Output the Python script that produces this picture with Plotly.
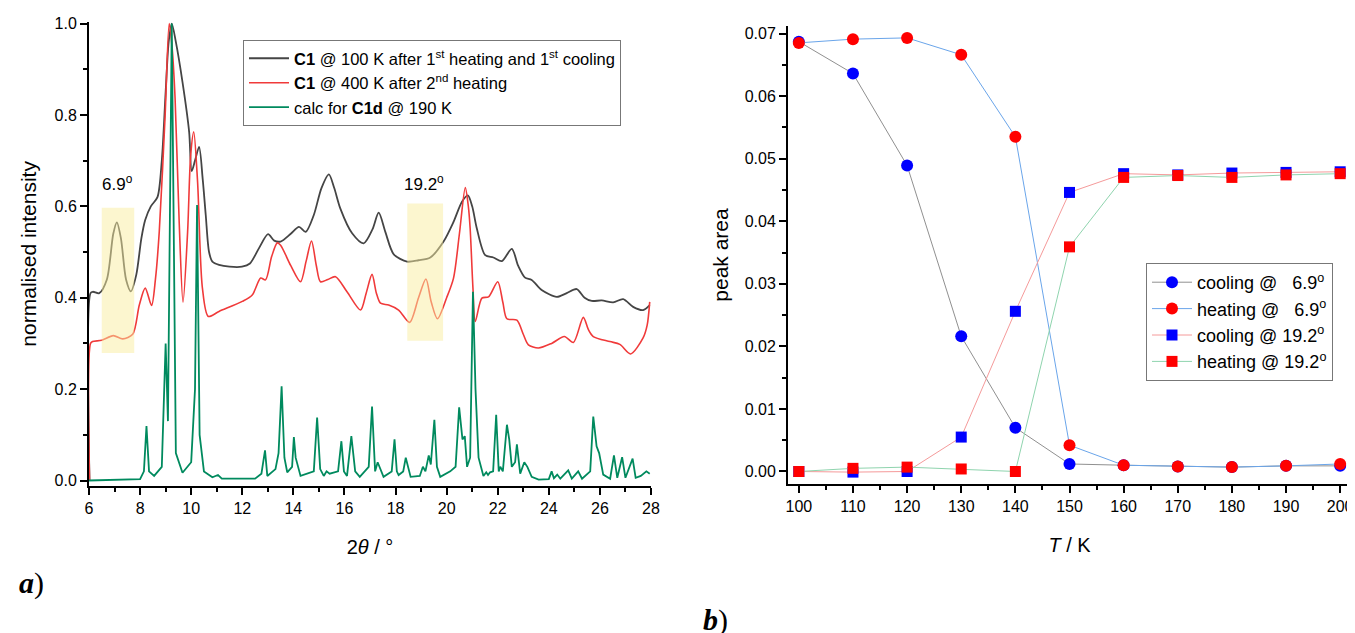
import plotly.graph_objects as go

# ---- panel a: powder patterns (2theta, normalised intensity) ----
tt_100k = [6.02, 6.06, 6.15, 6.4, 6.7, 6.95, 7.09, 7.25, 7.45, 7.64, 7.85, 8.05, 8.2, 8.42, 8.68, 8.85,
           9.0, 9.12, 9.24, 9.4, 9.66, 9.92, 10.02, 10.15, 10.31, 10.45, 10.57, 10.7, 10.83, 11.09,
           11.5, 11.99, 12.3, 12.65, 13.01, 13.25, 13.5, 13.9, 14.22, 14.48, 14.8, 15.1, 15.39, 15.6,
           15.84, 16.3, 16.75, 17.1, 17.34, 17.6, 17.93, 18.45, 18.9, 19.36, 19.88, 20.27, 20.6, 20.83,
           21.0, 21.18, 21.51, 21.83, 22.16, 22.55, 22.8, 23.07, 23.33, 23.72, 24.31, 24.7, 25.09,
           25.4, 25.68, 26.07, 26.52, 26.91, 27.3, 27.69, 27.95]
int_100k = [0.0, 0.41, 0.413, 0.41, 0.44, 0.54, 0.565, 0.53, 0.44, 0.414, 0.45, 0.53, 0.57, 0.6, 0.62, 0.7,
            0.85, 0.96, 1.0, 0.96, 0.872, 0.763, 0.677, 0.7, 0.73, 0.66, 0.581, 0.5, 0.479, 0.472,
            0.468, 0.468, 0.475, 0.508, 0.539, 0.525, 0.523, 0.54, 0.555, 0.544, 0.581, 0.64, 0.67, 0.64,
            0.595, 0.541, 0.519, 0.55, 0.586, 0.544, 0.495, 0.479, 0.482, 0.488, 0.523, 0.566, 0.61, 0.624,
            0.6, 0.552, 0.493, 0.488, 0.48, 0.507, 0.47, 0.444, 0.439, 0.417, 0.402, 0.41, 0.419,
            0.4, 0.393, 0.394, 0.39, 0.397, 0.38, 0.373, 0.384]

tt_400k = [6.02, 6.06, 6.14, 6.5, 6.95, 7.32, 7.71, 7.97, 8.2, 8.45, 8.6, 8.75, 8.98, 9.14, 9.25, 9.37,
           9.53, 9.68, 9.86, 9.98, 10.1, 10.25, 10.44, 10.67, 11.09, 12.0, 12.39, 12.72, 12.91, 13.15,
           13.37, 13.5, 13.9, 14.28, 14.5, 14.71, 14.9, 15.06, 15.35, 15.65, 16.1, 16.63, 16.85, 17.08,
           17.25, 17.41, 17.73, 18.12, 18.55, 18.9, 19.19, 19.4, 19.64, 20.0, 20.27, 20.5, 20.73, 20.85,
           20.92, 21.03, 21.12, 21.38, 21.64, 22.0, 22.2, 22.36, 22.75, 23.0, 23.2, 23.59, 24.11, 24.61,
           24.96, 25.35, 25.55, 25.74, 26.39, 26.78, 27.2, 27.69, 27.85, 27.95]
int_400k = [0.0, 0.30, 0.304, 0.307, 0.317, 0.31, 0.32, 0.384, 0.421, 0.383, 0.44, 0.544, 0.799, 1.0, 0.95, 0.836,
            0.566, 0.39, 0.544, 0.712, 0.763, 0.654, 0.421, 0.359, 0.37, 0.392, 0.406, 0.443, 0.439, 0.49,
            0.52, 0.515, 0.47, 0.435, 0.48, 0.524, 0.47, 0.435, 0.44, 0.446, 0.413, 0.373, 0.41, 0.451,
            0.41, 0.388, 0.384, 0.373, 0.346, 0.4, 0.441, 0.39, 0.354, 0.4, 0.443, 0.54, 0.641, 0.6,
            0.552, 0.421, 0.348, 0.399, 0.402, 0.435, 0.39, 0.354, 0.351, 0.32, 0.297, 0.29, 0.30, 0.315,
            0.302, 0.357, 0.33, 0.315, 0.304, 0.298, 0.277, 0.312, 0.34, 0.391]

tt_calc = [6.0, 8.0, 8.15, 8.25, 8.35, 8.55, 8.85, 9.0, 9.09, 9.24, 9.4, 9.66, 10.0, 10.15, 10.23, 10.33,
           10.5, 10.83, 11.05, 11.2, 12.5, 12.75, 12.89, 12.98, 13.3, 13.42, 13.54, 13.65, 13.76, 13.95,
           14.02, 14.09, 14.28, 14.8, 14.93, 15.05, 15.19, 15.3, 15.42, 15.75, 15.88, 15.98, 16.1, 16.27,
           16.42, 16.6, 16.95, 17.08, 17.2, 17.3, 17.53, 17.85, 17.96, 18.05, 18.12, 18.3, 18.4, 18.59,
           18.95, 19.07, 19.17, 19.3, 19.38, 19.52, 19.62, 19.75, 20.14, 20.35, 20.49, 20.62, 20.71, 20.8,
           20.92, 21.03, 21.13, 21.25, 21.44, 21.55, 21.62, 21.7, 21.82, 21.94, 22.04, 22.1, 22.2, 22.36,
           22.45, 22.55, 22.68, 22.75, 22.88, 23.04, 23.16, 23.33, 23.6, 24.0, 24.11, 24.2, 24.33, 24.45,
           24.76, 24.9, 25.15, 25.3, 25.62, 25.74, 25.87, 25.97, 26.13, 26.4, 26.55, 26.68, 26.87, 27.0,
           27.28, 27.4, 27.6, 27.82, 27.95]
int_calc = [0.0, 0.003, 0.02, 0.119, 0.02, 0.01, 0.03, 0.30, 0.13, 1.0, 0.06, 0.017, 0.04, 0.2, 0.603, 0.1,
            0.02, 0.007, 0.012, 0.004, 0.004, 0.015, 0.066, 0.01, 0.025, 0.06, 0.206, 0.05, 0.018, 0.03,
            0.095, 0.05, 0.01, 0.02, 0.138, 0.025, 0.01, 0.02, 0.015, 0.02, 0.086, 0.02, 0.01, 0.097,
            0.02, 0.008, 0.03, 0.162, 0.02, 0.04, 0.008, 0.02, 0.09, 0.02, 0.012, 0.02, 0.05, 0.008,
            0.01, 0.03, 0.02, 0.055, 0.035, 0.133, 0.03, 0.008, 0.02, 0.03, 0.16, 0.09, 0.097, 0.03,
            0.05, 0.413, 0.2, 0.05, 0.01, 0.018, 0.012, 0.018, 0.02, 0.144, 0.02, 0.03, 0.02, 0.122,
            0.09, 0.03, 0.04, 0.079, 0.015, 0.04, 0.03, 0.008, 0.002, 0.003, 0.02, 0.005, 0.013, 0.004,
            0.022, 0.004, 0.02, 0.004, 0.02, 0.14, 0.075, 0.06, 0.013, 0.004, 0.055, 0.006, 0.051, 0.006,
            0.048, 0.006, 0.01, 0.02, 0.015]

# highlighted regions (2theta ranges)
band_69 = [6.5, 7.77]
band_192 = [18.46, 19.86]

# ---- panel b: peak areas vs temperature ----
temp_K = [100, 110, 120, 130, 140, 150, 160, 170, 180, 190, 200]
cool_69 = [0.0687, 0.0636, 0.0489, 0.0216, 0.0070, 0.0012, 0.0010, 0.0008, 0.0007, 0.0009, 0.0009]
heat_69 = [0.0685, 0.0691, 0.0693, 0.0666, 0.0535, 0.0042, 0.0010, 0.0008, 0.0007, 0.0009, 0.0012]
cool_192 = [0.0000, -0.0001, 0.0000, 0.0055, 0.0256, 0.0446, 0.0476, 0.0474, 0.0477, 0.0478, 0.0479]
heat_192 = [0.0000, 0.0005, 0.0007, 0.0004, 0.0000, 0.0359, 0.0470, 0.0473, 0.0470, 0.0474, 0.0476]

FONT = "Liberation Sans, Arial, sans-serif"
# page body has an 8px margin, so the figure is a bit smaller than the window
OFF = 8
W, H = 1355 - OFF, 633 - OFF


def fx(px):
    return (px - OFF) / W


def fy(py):
    return 1 - (py - OFF) / H


fig = go.Figure()

fig.add_trace(go.Scatter(x=tt_100k, y=int_100k, mode="lines", line=dict(color="#454545", width=1.8, shape="spline", smoothing=0.8),
                         name="<b>C1</b> @ 100 K after 1<sup>st</sup> heating and 1<sup>st</sup> cooling", xaxis="x", yaxis="y"))
fig.add_trace(go.Scatter(x=tt_400k, y=int_400k, mode="lines", line=dict(color="#f03a3a", width=1.6, shape="spline", smoothing=0.8),
                         name="<b>C1</b> @ 400 K after 2<sup>nd</sup> heating", xaxis="x", yaxis="y"))
fig.add_trace(go.Scatter(x=tt_calc, y=int_calc, mode="lines", line=dict(color="#008a5e", width=1.8),
                         name="calc for <b>C1d</b> @ 190 K", xaxis="x", yaxis="y"))

right_series = [
    ("cooling @   6.9<sup>o</sup>", cool_69, "circle", "#0000ff", "#909090"),
    ("heating @   6.9<sup>o</sup>", heat_69, "circle", "#ff0000", "#6aa5ea"),
    ("cooling @ 19.2<sup>o</sup>", cool_192, "square", "#0000ff", "#f59a9a"),
    ("heating @ 19.2<sup>o</sup>", heat_192, "square", "#ff0000", "#8fd4ae"),
]
for name, vals, sym, mc, lc in right_series:
    fig.add_trace(go.Scatter(x=temp_K, y=vals, mode="lines+markers", name=name,
                             line=dict(color=lc, width=1),
                             marker=dict(symbol=sym, color=mc, size=12 if sym == "circle" else 11),
                             xaxis="x2", yaxis="y2", legend="legend2"))

for lo, hi, ylo, yhi in [(band_69[0], band_69[1], 0.279, 0.597), (band_192[0], band_192[1], 0.306, 0.606)]:
    fig.add_shape(type="rect", xref="x", yref="y", x0=lo, x1=hi, y0=ylo, y1=yhi,
                  fillcolor="rgba(250,238,160,0.5)", line_width=0, layer="above")

fig.add_annotation(x=7.1, y=0.652, xref="x", yref="y", text="6.9<sup>o</sup>", showarrow=False,
                   font=dict(family=FONT, size=17, color="black"))
fig.add_annotation(x=19.1, y=0.652, xref="x", yref="y", text="19.2<sup>o</sup>", showarrow=False,
                   font=dict(family=FONT, size=17, color="black"))

fig.add_annotation(x=fx(31), y=fy(583), xref="paper", yref="paper", text="<b><i>a</i></b>)", showarrow=False,
                   xanchor="center", yanchor="middle",
                   font=dict(family="Liberation Serif, Times New Roman, serif", size=30, color="black"))
fig.add_annotation(x=fx(715), y=fy(620), xref="paper", yref="paper", text="<b><i>b</i></b>)", showarrow=False,
                   xanchor="center", yanchor="middle",
                   font=dict(family="Liberation Serif, Times New Roman, serif", size=30, color="black"))

axis_common = dict(showline=True, linecolor="black", linewidth=2, ticks="outside", ticklen=7, tickwidth=2,
                   tickcolor="black", showgrid=False, zeroline=False, mirror=False, automargin=False,
                   tickfont=dict(family=FONT, size=16, color="black"))

fig.update_layout(
    width=W, height=H, margin=dict(l=0, r=0, t=0, b=0),
    plot_bgcolor="white", paper_bgcolor="white",
    font=dict(family=FONT, color="black"),
    xaxis=dict(axis_common, domain=[fx(89), fx(651)], range=[6, 28], dtick=2, anchor="y",
               minor=dict(dtick=1, ticks="outside", ticklen=4, tickwidth=2, tickcolor="black"),
               title=dict(text="2<i>θ</i> / °", font=dict(family=FONT, size=20), standoff=24)),
    yaxis=dict(axis_common, domain=[fy(486), fy(21.7)], range=[-0.012, 1.004], dtick=0.2, tickformat=".1f",
               anchor="x", minor=dict(dtick=0.1, ticks="outside", ticklen=4, tickwidth=2, tickcolor="black"),
               title=dict(text="normalised intensity", font=dict(family=FONT, size=21), standoff=12)),
    xaxis2=dict(axis_common, domain=[fx(788), fx(1351)], range=[98, 202], dtick=10, tick0=100, anchor="y2",
                minor=dict(dtick=5, ticks="outside", ticklen=4, tickwidth=2, tickcolor="black"),
                title=dict(text="<i>T</i> / K", font=dict(family=FONT, size=20), standoff=24)),
    yaxis2=dict(axis_common, domain=[fy(484), fy(26)], range=[-0.002, 0.0712], dtick=0.01, tickformat=".2f",
                anchor="x2", minor=dict(dtick=0.005, ticks="outside", ticklen=4, tickwidth=2, tickcolor="black"),
                title=dict(text="peak area", font=dict(family=FONT, size=21), standoff=10)),
    legend=dict(x=fx(243), y=fy(40), xanchor="left", yanchor="top", bgcolor="white",
                bordercolor="#777777", borderwidth=1, font=dict(family=FONT, size=16.5, color="black"),
                tracegroupgap=0, itemwidth=40),
    legend2=dict(x=fx(1146), y=fy(263), xanchor="left", yanchor="top", bgcolor="white",
                 bordercolor="#777777", borderwidth=1, font=dict(family=FONT, size=18, color="black"),
                 tracegroupgap=0, itemwidth=40),
    showlegend=True,
)

fig.write_html("out.html")
